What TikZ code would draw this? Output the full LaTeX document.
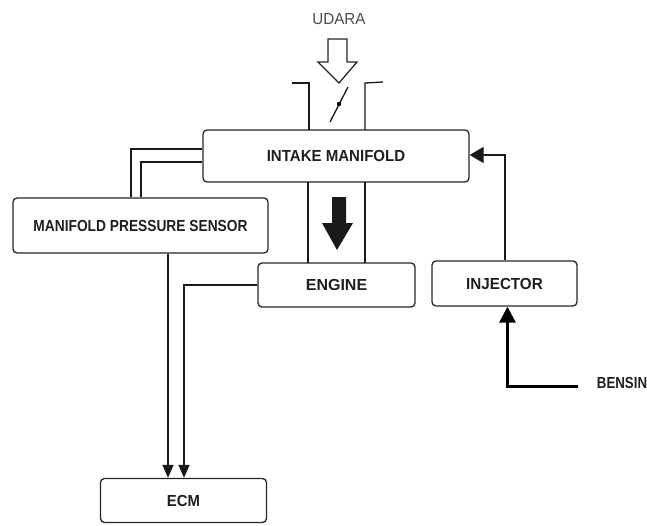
\documentclass[tikz,border=0pt]{standalone}
\usepackage{fontspec}
\usepackage{graphicx}
\setmainfont{Liberation Sans}
\usetikzlibrary{arrows.meta}
\newcommand\lbl[2]{\scalebox{#1}[1]{#2}}
\begin{document}
\begin{tikzpicture}[x=1pt,y=-1pt,
  boxnode/.style={draw=black!85, line width=1.3pt, rounded corners=4pt, inner sep=0pt,
    font=\fontsize{16}{18}\selectfont\bfseries, text=black!88},
  wire/.style={draw=black!90, line width=1.3pt},
  tipS/.style={-{Triangle[length=13pt,width=11pt]}},
  tipL/.style={-{Triangle[length=16pt,width=16pt]}}]
\useasboundingbox (0,0) rectangle (647,525);

% nodes
\node[boxnode, minimum width=266pt, minimum height=52pt] (manifold) at (336,156) {\lbl{0.94}{INTAKE MANIFOLD}};
\node[boxnode, minimum width=255pt, minimum height=55pt] (mps) at (140.5,225.5) {\lbl{0.86}{MANIFOLD PRESSURE SENSOR}};
\node[boxnode, minimum width=157pt, minimum height=44pt] (engine) at (336.5,285) {\lbl{1.0}{ENGINE}};
\node[boxnode, minimum width=145pt, minimum height=45pt] (injector) at (504.5,283.5) {\lbl{0.95}{INJECTOR}};
\node[boxnode, minimum width=166pt, minimum height=44pt] (ecm) at (183.5,500.5) {\lbl{0.93}{ECM}\hspace{12pt}};
\node[font=\fontsize{16}{18}\selectfont\bfseries, text=black!88, inner sep=0pt] (bensin) at (622,383) {\lbl{0.83}{BENSIN}};
\node[font=\fontsize{16}{18}\selectfont, text=black!70, inner sep=0pt] (udara) at (339,19) {\lbl{0.95}{UDARA}};
\coordinate (bstart) at (578,386);

% intake air arrow (hollow)
\draw[line width=1.3pt, draw=black!85, fill=white]
  (328,39) -- (347,39) -- (347,62) -- (357,62) -- (339,83) -- (318,62) -- (328,62) -- cycle;
% throttle body
\draw[wire] (292,83) -- (309,83) -- (309,130);
\draw[wire] (365,130) -- (365,83) -- (383,82);
\draw[line width=1.3pt, black!90] (330,122) -- (348,87);
\fill[black] (339,104) circle (2.2);

% tube manifold -> engine
\draw[wire] (308,182) -- (308,263);
\draw[wire] (365,182) -- (365,263);
\fill[black!90] (332,197) -- (346,197) -- (346,223) -- (353,223) -- (337,250) -- (322,223) -- (332,223) -- cycle;

% manifold -> MPS
\draw[wire] ([yshift=7pt]manifold.west) -| ([xshift=-9.5pt]mps.north);
\draw[wire] ([yshift=-6pt]manifold.west) -| ([xshift=0.5pt]mps.north);

% MPS -> ECM, engine -> ECM
\draw[wire, tipS] ([xshift=27.5pt]mps.south) -- ([xshift=27.5pt]mps.south |- ecm.north);
\draw[wire, tipS] (engine.west) -| ([xshift=0.5pt]ecm.north);

% injector -> manifold
\draw[wire, line width=2pt, {-Triangle[length=14pt,width=16pt]}] (injector.north) |- ([yshift=1pt]manifold.east);

% bensin -> injector
\draw[draw=black, line width=3pt, tipL] (bstart) -| ([xshift=3pt]injector.south);
\end{tikzpicture}
\end{document}
